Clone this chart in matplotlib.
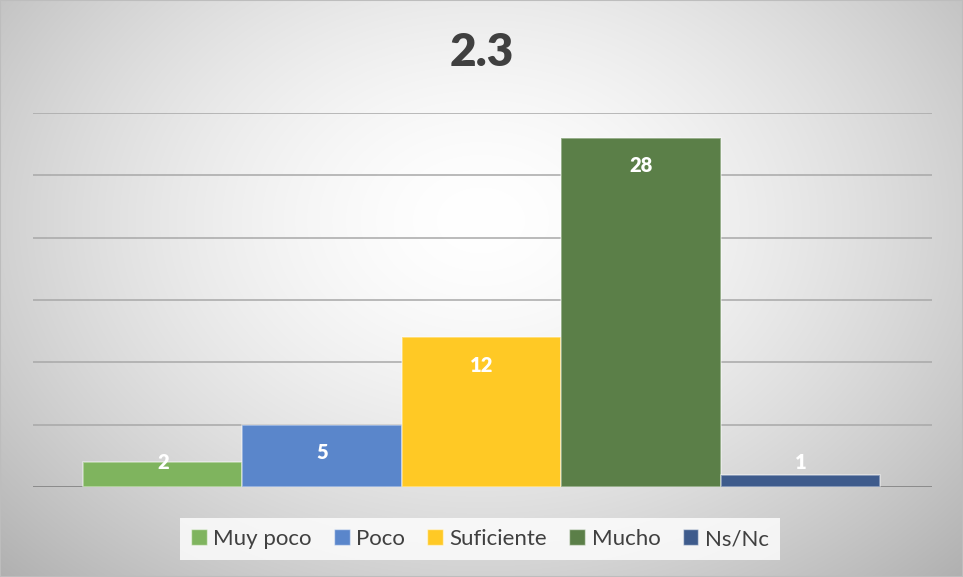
import matplotlib
matplotlib.use('Agg')
import matplotlib.pyplot as plt
import numpy as np

# chart data
categories = ['Muy poco', 'Poco', 'Suficiente', 'Mucho', 'Ns/Nc']
values = [2, 5, 12, 28, 1]
colors = ['#7FB45E', '#5A86CB', '#FFC925', '#5B7F48', '#3E5B8C']
title = '2.3'

plt.rcParams['font.family'] = ['Lato', 'DejaVu Sans']

fig = plt.figure(figsize=(9.63, 5.77), dpi=100)

# radial gradient background
bg = fig.add_axes([0, 0, 1, 1], zorder=-10)
yy, xx = np.mgrid[0:577, 0:963]
r = np.sqrt(((xx - 480) / 560.0) ** 2 + ((yy - 220) / 420.0) ** 2)
shade = 1.0 - 0.23 * np.clip(r, 0, 1.2) ** 1.6
bg.imshow(np.dstack([shade] * 3), aspect='auto', extent=[0, 1, 0, 1], vmin=0, vmax=1)
bg.add_patch(plt.Rectangle((0, 0), 1, 1, transform=bg.transAxes, fill=False,
                           edgecolor='#bdbdbd', linewidth=1.5))
bg.axis('off')

ax = fig.add_axes([33 / 963, 90 / 577, 899 / 963, 374 / 577])
ax.patch.set_alpha(0)

x = np.arange(len(categories))
bars = ax.bar(x, values, width=1.0, color=colors, edgecolor=(1, 1, 1, 0.45),
              linewidth=1.2, zorder=3, label=categories)

# labels sit inside the top of each bar, or just above the baseline for short bars
for xi, v in zip(x, values):
    ly = max(v - 2.25, 2.0)
    ax.text(xi, ly, str(v), ha='center', va='center', color='white',
            fontsize=14.5, fontweight='heavy', zorder=4)

ax.set_ylim(0, 30)
ax.set_xlim(-0.814, 4.826)
ax.set_yticks(np.arange(0, 31, 5))
ax.yaxis.grid(True, color='#a8a8a8', linewidth=1.1, zorder=0)
ax.axhline(0, color='#8c8c8c', linewidth=1.4, zorder=2)
ax.tick_params(left=False, bottom=False, labelleft=False, labelbottom=False)
for s in ax.spines.values():
    s.set_visible(False)

fig.text(0.5, 1 - 52 / 577, title, ha='center', va='center', fontsize=33,
         fontweight='heavy', color='#404040')

handles = [plt.Rectangle((0, 0), 1, 1, facecolor=c, edgecolor=(1, 1, 1, 0.5), linewidth=1)
           for c in colors]
leg = fig.legend(handles, categories, loc='center', bbox_to_anchor=(480 / 963, 1 - 539 / 577),
                 ncol=5, frameon=True, fontsize=16, handlelength=0.7, handleheight=0.7,
                 handletextpad=0.3, columnspacing=1.0, borderpad=0.5, fancybox=False,
                 labelcolor='#404040')
leg.get_frame().set_facecolor((1, 1, 1, 0.45))
leg.get_frame().set_edgecolor('none')

fig.savefig('out.png', dpi=100)
